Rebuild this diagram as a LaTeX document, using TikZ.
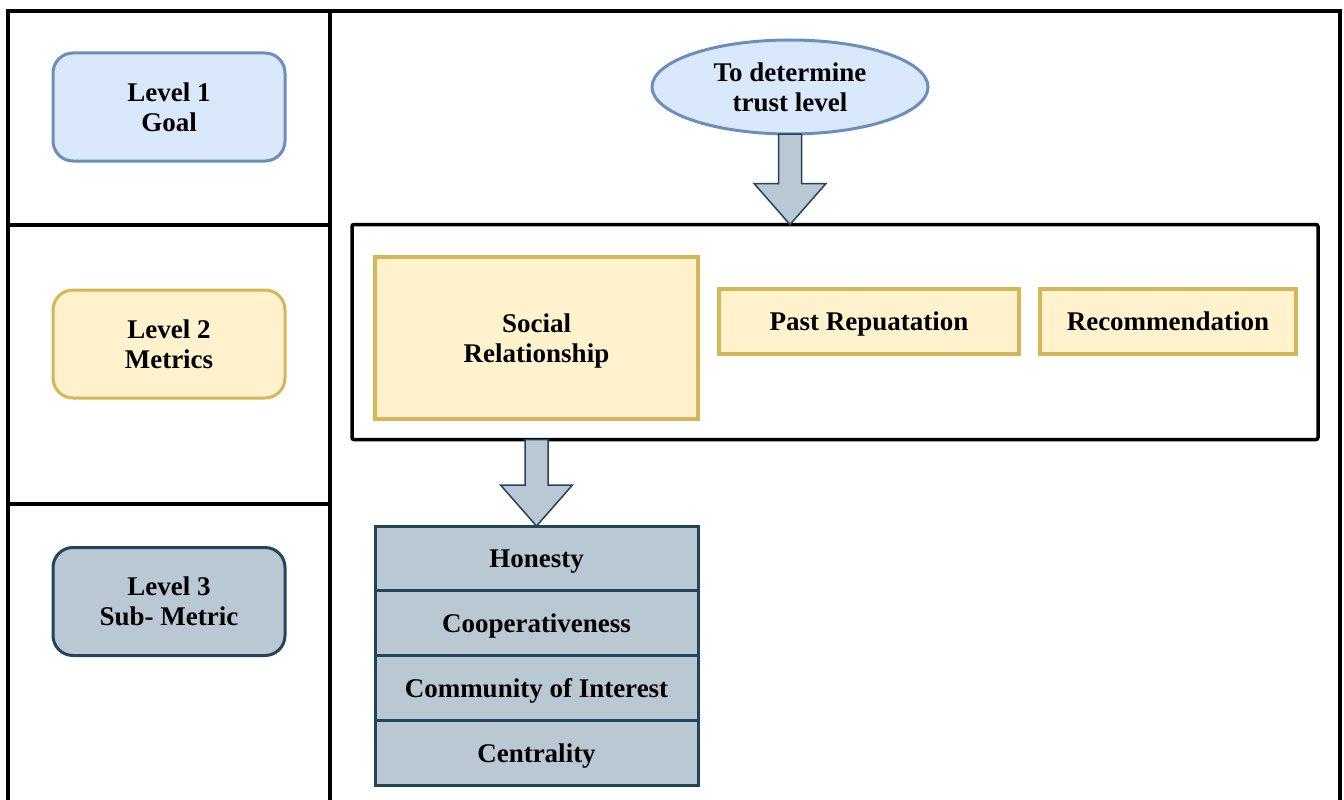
\documentclass[tikz,border=0pt]{standalone}
\usepackage{fontspec}
\setmainfont{Liberation Serif}
\usetikzlibrary{positioning, shapes.geometric, calc}
\definecolor{goalfill}{HTML}{DAE8FC}
\definecolor{goaldraw}{HTML}{6C8EBF}
\definecolor{metfill}{HTML}{FFF2CC}
\definecolor{metdraw}{HTML}{D6B656}
\definecolor{subfill}{HTML}{BAC8D3}
\definecolor{subdraw}{HTML}{23445D}
\newcommand{\lbl}{\fontsize{27}{30}\selectfont\bfseries}
\newcommand{\fatdown}[2]{%
  \draw[fatarrow] let \p1=(#1), \p2=(#2) in
    (\x1-11.5pt,\y1) -- (\x1+11.5pt,\y1) -- (\x1+11.5pt,\y2+41pt) -- (\x1+36pt,\y2+41pt)
    -- (\x1,\y2) -- (\x1-36pt,\y2+41pt) -- (\x1-11.5pt,\y2+41pt) -- cycle;}

\begin{document}
\begin{tikzpicture}[x=1pt, y=-1pt,
    frame/.style={line width=4pt, black},
    level/.style={rectangle, rounded corners=20pt, line width=3pt, outer sep=0pt,
                  minimum width=232pt, minimum height=108pt, align=center, font=\lbl, text depth=0pt},
    metric/.style={rectangle, line width=3.5pt, draw=metdraw, fill=metfill, outer sep=0pt,
                   minimum height=65pt, align=center, font=\lbl, text depth=0pt},
    sub/.style={rectangle, line width=3pt, draw=subdraw, fill=subfill, outer sep=0pt,
                minimum width=323pt, minimum height=64.75pt, font=\lbl, text depth=0pt},
    fatarrow/.style={line width=1.5pt, draw=subdraw, fill=subfill, line join=miter}
]
\useasboundingbox (0,0) rectangle (1344,800);
\draw[frame] (8,802) -- (8,11) -- (1340,11) -- (1340,802);
\draw[frame] (330,11) -- (330,802);
\draw[frame] (8,225) -- (330,225);
\draw[frame] (8,504) -- (330,504);

\node[level, draw=goaldraw, fill=goalfill] (lv1) at (169,107) {Level 1\\Goal};
\node[level, draw=metdraw, fill=metfill] (lv2) at (169,344) {Level 2\\Metrics};
\node[level, draw=subdraw, fill=subfill] (lv3) at (169,601.5) {Level 3\\Sub- Metric};

\node[ellipse, line width=3pt, draw=goaldraw, fill=goalfill, minimum width=276pt,
      minimum height=94pt, inner sep=0pt, outer sep=0pt, align=center, font=\lbl] (goal) at (790,87) {To determine\\trust level};

\node[rectangle, draw=black, line width=3.5pt, rounded corners=2pt, outer sep=0pt,
      minimum width=966pt, minimum height=215pt] (met) at (835,332) {};
\node[metric, minimum width=323pt, minimum height=162pt] (soc) at (536.5,338) {Social\\Relationship};
\node[metric, minimum width=300pt] (past) at (869,321.5) {Past Repuatation};
\node[metric, minimum width=256pt, right=21pt of past] (rec) {Recommendation};

\node[sub, anchor=north] (hon) at (536.5,526) {Honesty};
\node[sub, below=0pt of hon] (coop) {Cooperativeness};
\node[sub, below=0pt of coop] (coi) {Community of Interest};
\node[sub, below=0pt of coi] (cen) {Centrality};

\fatdown{goal.south}{met.north -| goal.south}
\fatdown{met.south -| soc.south}{hon.north}
\end{tikzpicture}
\end{document}
